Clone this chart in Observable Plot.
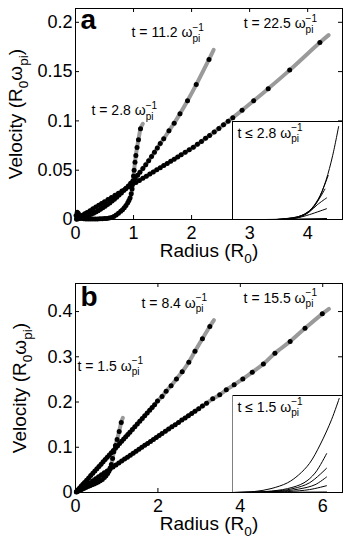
<!DOCTYPE html>
<html><head><meta charset="utf-8">
<script src="https://cdn.jsdelivr.net/npm/d3@7"></script>
<script src="https://cdn.jsdelivr.net/npm/@observablehq/plot@0.6"></script>
<style>
body{margin:0;background:#fff}
#wrap{position:relative;width:346px;height:545px;overflow:hidden}
#wrap svg{position:absolute;display:block}
</style></head><body><div id="wrap"></div>
<script>
// ---------- Panel a data (radius R0, velocity R0*omega_pi) ----------
const A_R28 = [0.01,0.03,0.05,0.08,0.11,0.14,0.18,0.22,0.26,0.30,0.34,0.38,0.42,0.46,0.50,0.54,0.58,0.62,0.66,0.70,0.74,0.78,0.81,0.84,0.87,0.90,0.92,0.94,0.96,0.975,0.99,1.00,1.01,1.025,1.04,1.06,1.085,1.12];
const A_V28 = [0.004,0.0074,0.006,0.003,0.0015,0.0008,0.0005,0.0004,0.0004,0.0005,0.0005,0.0006,0.0007,0.0008,0.0009,0.0011,0.0014,0.0020,0.0030,0.0045,0.0063,0.0083,0.0100,0.0120,0.0143,0.0170,0.0192,0.0218,0.026,0.031,0.038,0.044,0.050,0.058,0.065,0.073,0.081,0.092];
const A_END28 = [1.16, 0.097];
const A_R112 = [0.02,0.05,0.08,0.11,0.15,0.19,0.23,0.27,0.31,0.35,0.39,0.43,0.47,0.51,0.55,0.59,0.63,0.67,0.71,0.75,0.79,0.83,0.87,0.91,0.95,0.99,1.03,1.07,1.11,1.16,1.21,1.26,1.31,1.36,1.41,1.46,1.52,1.61,1.70,1.80,1.93,2.08,2.30];
const A_V112 = [0.0003,0.0007,0.0011,0.0017,0.0024,0.0033,0.0042,0.0053,0.0064,0.0076,0.0089,0.0103,0.0118,0.0134,0.0151,0.0168,0.0187,0.0206,0.0226,0.0248,0.0270,0.0293,0.0316,0.0341,0.0367,0.0393,0.0421,0.0449,0.0478,0.0516,0.0555,0.0596,0.0638,0.0681,0.0726,0.0772,0.0818,0.0900,0.0976,0.1073,0.1205,0.1368,0.1624];
const A_END112 = [2.38, 0.172];
const A_R225 = [0.02,0.05,0.08,0.12,0.16,0.20,0.25,0.30,0.35,0.40,0.45,0.50,0.56,0.62,0.68,0.74,0.80,0.86,0.92,0.98,1.04,1.10,1.16,1.22,1.28,1.34,1.40,1.46,1.52,1.58,1.64,1.70,1.76,1.82,1.89,1.96,2.03,2.10,2.17,2.24,2.31,2.39,2.47,2.55,2.63,2.71,2.87,3.07,3.32,3.69,4.21];
const A_V225 = [0.0007,0.0018,0.0029,0.0043,0.0058,0.0072,0.0090,0.0108,0.0126,0.0144,0.0162,0.0180,0.0202,0.0223,0.0245,0.0266,0.0288,0.0310,0.0331,0.0353,0.0374,0.0396,0.0418,0.0439,0.0461,0.0482,0.0504,0.0526,0.0547,0.0569,0.0590,0.0612,0.0634,0.0656,0.0681,0.0707,0.0733,0.0762,0.0792,0.0823,0.0853,0.0888,0.0924,0.0960,0.0996,0.1033,0.1108,0.1204,0.1327,0.1515,0.1795];
const A_END225 = [4.36, 0.187];

// ---------- Panel b data ----------
const B_R15 = [0.02,0.05,0.09,0.13,0.17,0.21,0.25,0.30,0.35,0.40,0.45,0.50,0.55,0.60,0.65,0.70,0.74,0.78,0.81,0.84,0.87,0.90,0.93,0.97,1.01,1.06,1.11];
const B_V15 = [0.001,0.0025,0.004,0.006,0.008,0.0095,0.011,0.013,0.015,0.017,0.019,0.021,0.023,0.026,0.029,0.033,0.037,0.042,0.047,0.054,0.062,0.075,0.090,0.104,0.117,0.135,0.155];
const B_END15 = [1.15, 0.165];
const B_R84 = [0.03,0.06,0.10,0.14,0.18,0.22,0.27,0.32,0.37,0.42,0.47,0.52,0.57,0.62,0.67,0.72,0.77,0.82,0.87,0.92,0.97,1.02,1.07,1.12,1.17,1.22,1.27,1.32,1.38,1.44,1.50,1.56,1.62,1.68,1.74,1.80,1.86,1.92,1.99,2.10,2.20,2.32,2.45,2.59,2.75,2.90,3.08,3.26];
const B_V84 = [0.0030,0.0061,0.0101,0.0141,0.0182,0.0222,0.0273,0.0323,0.0374,0.0424,0.0475,0.0525,0.0576,0.0626,0.0677,0.0727,0.0778,0.0828,0.0879,0.0929,0.0980,0.1030,0.1081,0.1131,0.1182,0.1232,0.1283,0.1333,0.1394,0.1454,0.1515,0.1576,0.1636,0.1697,0.1757,0.1818,0.1879,0.1939,0.202,0.212,0.224,0.236,0.251,0.267,0.288,0.312,0.340,0.367];
const B_END84 = [3.36, 0.381];
const B_R155 = [0.03,0.07,0.12,0.17,0.23,0.29,0.35,0.42,0.49,0.56,0.63,0.70,0.77,0.84,0.91,0.98,1.05,1.12,1.19,1.26,1.33,1.40,1.47,1.54,1.61,1.68,1.75,1.82,1.89,1.96,2.03,2.10,2.18,2.26,2.34,2.42,2.50,2.58,2.66,2.74,2.82,2.90,2.99,3.08,3.18,3.33,3.50,3.66,3.85,4.06,4.29,4.56,4.84,5.21,5.57,5.99];
const B_V155 = [0.0019,0.0043,0.0074,0.0105,0.0143,0.0180,0.0217,0.0260,0.0304,0.0347,0.0391,0.0434,0.0477,0.0521,0.0564,0.0608,0.0651,0.0694,0.0738,0.0781,0.0825,0.0868,0.0911,0.0955,0.0998,0.1042,0.1085,0.1128,0.1172,0.1215,0.1259,0.1302,0.1352,0.1401,0.1451,0.1500,0.1550,0.1600,0.1649,0.1699,0.1748,0.1798,0.1854,0.1910,0.1972,0.207,0.216,0.227,0.238,0.251,0.266,0.284,0.308,0.334,0.363,0.395];
const B_END155 = [6.15, 0.406];

// ---------- Insets (normalised inset coordinates) ----------
const INSET_A = [
  [[0.45,0],[0.6,0.02],[0.7,0.08],[0.78,0.2],[0.85,0.4],[0.91,0.65],[0.965,0.95]],
  [[0.42,0],[0.6,0.025],[0.7,0.09],[0.78,0.21],[0.84,0.36],[0.87,0.45]],
  [[0.40,0],[0.6,0.03],[0.7,0.09],[0.77,0.18],[0.84,0.31]],
  [[0.40,0],[0.6,0.03],[0.7,0.08],[0.77,0.15],[0.855,0.22]],
  [[0.40,0],[0.6,0.02],[0.7,0.05],[0.855,0.11]],
  [[0.30,0],[0.855,0.01]]
];
const INSET_B = [
  [[0,0],[0.2,0.01],[0.35,0.04],[0.5,0.1],[0.6,0.18],[0.7,0.3],[0.8,0.5],[0.9,0.75],[0.97,0.97]],
  [[0,0],[0.3,0.01],[0.5,0.04],[0.65,0.1],[0.75,0.2],[0.855,0.4]],
  [[0,0],[0.35,0.01],[0.55,0.04],[0.7,0.1],[0.855,0.25]],
  [[0,0],[0.4,0.01],[0.6,0.035],[0.75,0.08],[0.855,0.16]],
  [[0,0],[0.5,0.01],[0.7,0.03],[0.855,0.07]],
  [[0,0],[0.855,0.005]]
];

// ---------- Text ----------
const A_LABELS = [
  {r:0.276, v:0.1056, t:"t = 2.8 ω^{−1}_{pi}"},
  {r:0.966, v:0.1848, t:"t = 11.2 ω^{−1}_{pi}"},
  {r:2.897, v:0.1939, t:"t = 22.5 ω^{−1}_{pi}"}
];
const B_LABELS = [
  {r:0.049, v:0.2696, t:"t = 1.5 ω^{−1}_{pi}"},
  {r:1.603, v:0.4088, t:"t = 8.4 ω^{−1}_{pi}"},
  {r:4.08, v:0.4199, t:"t = 15.5 ω^{−1}_{pi}"}
];
const XLABEL = "Radius (R_{0})";
const YLABEL = "Velocity (R_{0}ω_{pi})";

const FONT = '"Liberation Sans", Arial, Helvetica, sans-serif';
const zip = (R, V) => R.map((r, i) => ({r, v: V[i]}));
const pt = ([r, v]) => ({r, v});

function panel({series, xDomain, yDomain, xTicks, yTicks, height, marginTop, labels, letter, letterDy, yDx}) {
  const marginBottom = 53, marginLeft = 75, marginRight = 4, width = 346;
  const fh = height - marginTop - marginBottom, fw = width - marginLeft - marginRight;
  const marks = [];
  for (const s of series) {
    const d = zip(s.R, s.V);
    marks.push(Plot.line([...d, pt(s.end)], {x: "r", y: "v", stroke: "#9a9a9a", strokeWidth: 4, curve: "catmull-rom"}));
  }
  for (const s of series) marks.push(Plot.dot(zip(s.R, s.V), {x: "r", y: "v", r: 2.5, fill: "black"}));
  marks.push(
    Plot.frame({stroke: "black"}),
    Plot.tickX(xTicks, {x: d => d, insetTop: fh - 4, stroke: "black"}),
    Plot.tickX(xTicks, {x: d => d, insetBottom: fh - 4, stroke: "black"}),
    Plot.tickY(yTicks, {y: d => d, insetRight: fw - 4, stroke: "black"}),
    Plot.tickY(yTicks, {y: d => d, insetLeft: fw - 4, stroke: "black"}),
    Plot.text(labels, {x: "r", y: "v", text: "t", textAnchor: "start", lineAnchor: "bottom", fontSize: 14, fill: "black"}),
    Plot.text([letter], {text: d => d, frameAnchor: "top-left", dx: 5, dy: letterDy, textAnchor: "start", lineAnchor: "bottom", fontSize: 28, fontWeight: "bold", fill: "black"}),
    Plot.text([XLABEL], {text: d => d, frameAnchor: "bottom", dy: 37, textAnchor: "middle", lineAnchor: "bottom", fontSize: 19, fill: "black"}),
    Plot.text([YLABEL], {text: d => d, frameAnchor: "left", dx: yDx, rotate: -90, textAnchor: "middle", lineAnchor: "bottom", fontSize: 19, fill: "black"})
  );
  return Plot.plot({
    width, height, marginTop, marginBottom, marginLeft, marginRight,
    style: {fontFamily: FONT, fontSize: "18px", background: "white", color: "black"},
    x: {domain: xDomain, ticks: xTicks, tickSize: 0, tickPadding: 7, tickFormat: d => String(d), label: null},
    y: {domain: yDomain, ticks: yTicks, tickSize: 0, tickPadding: 3, tickFormat: d => String(d), label: null},
    marks
  });
}

function inset(curves, label, height, leftColor) {
  const marks = curves.map(c => Plot.line(c.map(pt), {x: "r", y: "v", stroke: "black", strokeWidth: 1, curve: "catmull-rom"}));
  marks.push(Plot.frame({stroke: "black"}));
  if (leftColor) marks.push(Plot.ruleX([0], {stroke: leftColor}));
  marks.push(Plot.text([label], {text: d => d, frameAnchor: "top-left", dx: 5, dy: 16, textAnchor: "start", lineAnchor: "bottom", fontSize: 14, fill: "black"}));
  return Plot.plot({
    width: 111, height, marginTop: 0, marginLeft: 0, marginRight: 1, marginBottom: 1,
    style: {fontFamily: FONT, fontSize: "14px", background: "white", color: "black"},
    x: {domain: [0, 1], axis: null}, y: {domain: [0, 1], axis: null},
    marks
  });
}

function richify(root) {
  const NS = "http://www.w3.org/2000/svg";
  root.querySelectorAll("text").forEach(t => {
    const s = t.textContent;
    if (!/[_^]\{/.test(s)) return;
    const fs = parseFloat(getComputedStyle(t).fontSize) || 14;
    const small = fs * 0.72;
    while (t.firstChild) t.removeChild(t.firstChild);
    const re = /([_^])\{([^}]*)\}|([^_^]+)/g;
    let m, shift = 0, lastSup = null;
    while ((m = re.exec(s))) {
      const ts = document.createElementNS(NS, "tspan");
      ts.setAttribute("fill", "black");
      if (m[3]) {
        ts.textContent = m[3];
        ts.setAttribute("font-size", fs);
        ts.setAttribute("dy", -shift);
        shift = 0; lastSup = null;
        t.appendChild(ts);
      } else {
        const target = m[1] === "^" ? -fs * 0.45 : fs * 0.32;
        ts.textContent = m[2];
        ts.setAttribute("font-size", small);
        ts.setAttribute("dy", target - shift);
        shift = target;
        t.appendChild(ts);
        if (m[1] === "_" && lastSup) ts.setAttribute("dx", -lastSup.getComputedTextLength());
        lastSup = m[1] === "^" ? ts : null;
      }
    }
  });
}

const wrap = document.getElementById("wrap");
const pa = panel({
  series: [
    {R: A_R225, V: A_V225, end: A_END225},
    {R: A_R112, V: A_V112, end: A_END112},
    {R: A_R28, V: A_V28, end: A_END28}
  ],
  xDomain: [0, 4.6], yDomain: [0, 0.214], xTicks: [0, 1, 2, 3, 4], yTicks: [0, 0.05, 0.1, 0.15, 0.2],
  height: 272, marginTop: 8, labels: A_LABELS, letter: "a", letterDy: 20, yDx: -54
});
pa.style.left = "0px"; pa.style.top = "0px";
const pb = panel({
  series: [
    {R: B_R155, V: B_V155, end: B_END155},
    {R: B_R84, V: B_V84, end: B_END84},
    {R: B_R15, V: B_V15, end: B_END15}
  ],
  xDomain: [0, 6.48], yDomain: [0, 0.462], xTicks: [0, 2, 4, 6], yTicks: [0, 0.1, 0.2, 0.3, 0.4],
  height: 273, marginTop: 11, labels: B_LABELS, letter: "b", letterDy: 22, yDx: -50
});
pb.style.left = "0px"; pb.style.top = "272px";
const ia = inset(INSET_A, "t ≤ 2.8 ω^{−1}_{pi}", 99, null);
ia.style.left = "232px"; ia.style.top = "121px";
const ib = inset(INSET_B, "t ≤ 1.5 ω^{−1}_{pi}", 98, "#808080");
ib.style.left = "232px"; ib.style.top = "395px";
for (const el of [pa, pb, ia, ib]) { el.style.position = "absolute"; el.style.maxWidth = "none"; wrap.appendChild(el); }
richify(wrap);
</script>
</body></html>
